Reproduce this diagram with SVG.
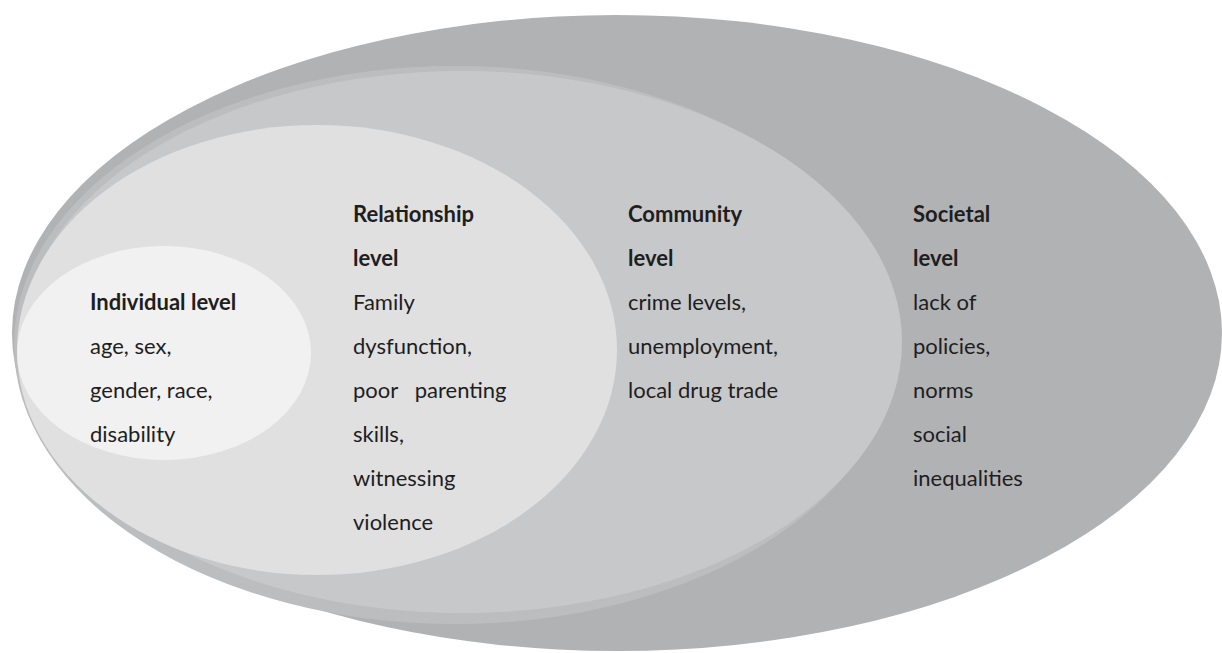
<svg xmlns="http://www.w3.org/2000/svg" width="1222" height="653" viewBox="0 0 1222 653">
  <style>
    .lbl { font-family: Lato, "Open Sans", "Liberation Sans", sans-serif; font-size: 22px; fill: #1e1e1e; }
    .hd { font-weight: bold; }
    .pre { white-space: pre; }
  </style>
  <rect width="1222" height="653" fill="#ffffff"/>

  <!-- Societal level: outermost ring -->
  <g id="societal">
    <ellipse cx="617" cy="333" rx="605" ry="318" fill="#b1b2b4"/>
    <text class="lbl" x="913">
      <tspan class="hd" x="913" y="222">Societal</tspan>
      <tspan class="hd" x="913" y="266">level</tspan>
      <tspan x="913" y="310">lack of</tspan>
      <tspan x="913" y="354">policies,</tspan>
      <tspan x="913" y="398">norms</tspan>
      <tspan x="913" y="442">social</tspan>
      <tspan x="913" y="486">inequalities</tspan>
    </text>
  </g>

  <!-- Community level, with its soft rim on the left -->
  <g id="community">
    <ellipse cx="455" cy="345" rx="441" ry="279" fill="#bcbdbf"/>
    <ellipse cx="462" cy="342" rx="440" ry="271" fill="#c7c8ca"/>
    <text class="lbl" x="628">
      <tspan class="hd" x="628" y="222">Community</tspan>
      <tspan class="hd" x="628" y="266">level</tspan>
      <tspan x="628" y="310">crime levels,</tspan>
      <tspan x="628" y="354">unemployment,</tspan>
      <tspan x="628" y="398">local drug trade</tspan>
    </text>
  </g>

  <!-- Relationship level -->
  <g id="relationship">
    <ellipse cx="317" cy="350" rx="300" ry="225" fill="#e0e0e1"/>
    <text class="lbl" x="353">
      <tspan class="hd" x="353" y="222">Relationship</tspan>
      <tspan class="hd" x="353" y="266">level</tspan>
      <tspan x="353" y="310">Family</tspan>
      <tspan x="353" y="354">dysfunction,</tspan>
      <tspan class="pre" x="353" y="398">poor   parenting</tspan>
      <tspan x="353" y="442">skills,</tspan>
      <tspan x="353" y="486">witnessing</tspan>
      <tspan x="353" y="530">violence</tspan>
    </text>
  </g>

  <!-- Individual level: innermost ellipse -->
  <g id="individual">
    <ellipse cx="164" cy="353" rx="147" ry="107" fill="#f1f1f1"/>
    <text class="lbl" x="90">
      <tspan class="hd" x="90" y="310">Individual level</tspan>
      <tspan x="90" y="354">age, sex,</tspan>
      <tspan x="90" y="398">gender, race,</tspan>
      <tspan x="90" y="442">disability</tspan>
    </text>
  </g>

  <!-- no connectors in this diagram -->
  <g id="connectors"/>
</svg>
